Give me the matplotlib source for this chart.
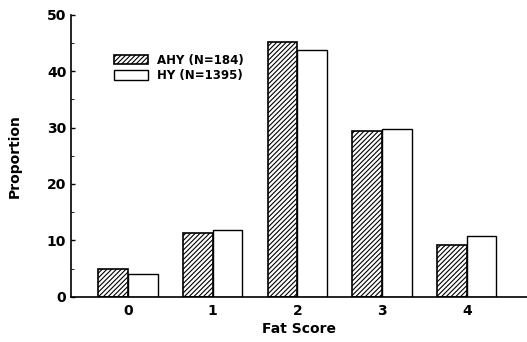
import matplotlib

matplotlib.use("Agg")
import matplotlib.pyplot as plt  # noqa: E402
import numpy as np  # noqa: E402

fat_scores = ["0", "1", "2", "3", "4"]
ahy_vals = [5.0, 11.4, 45.1, 29.4, 9.2]
hy_vals = [4.1, 11.8, 43.7, 29.8, 10.8]
labels = ["AHY (N=184)", "HY (N=1395)"]

plt.rcParams["font.family"] = "DejaVu Sans"
plt.rcParams["hatch.linewidth"] = 0.8

fig = plt.figure(figsize=(5.27, 3.42), dpi=100)
ax = fig.add_axes([0.135, 0.132, 0.865, 0.825])

x = np.arange(len(fat_scores))
w = 0.35
ax.bar(x - w / 2, ahy_vals, w, facecolor="white", edgecolor="black",
       hatch="///////", linewidth=1.2, label=labels[0])
ax.bar(x + w / 2, hy_vals, w, facecolor="white", edgecolor="black",
       linewidth=1.0, label=labels[1])

ax.set_xlim(-0.67, 4.71)
ax.set_ylim(0, 50)
ax.set_xticks(x)
ax.set_xticklabels(fat_scores, fontsize=10, fontweight="bold")
ax.set_yticks(range(0, 51, 10))
ax.set_yticks(range(5, 50, 10), minor=True)
ax.tick_params(axis="y", direction="in", length=3, width=1, labelsize=10)
ax.tick_params(axis="y", which="minor", direction="in", length=2)
ax.tick_params(axis="x", length=0, pad=5)
for t in ax.get_yticklabels():
    t.set_fontweight("bold")
ax.spines["top"].set_visible(False)
ax.spines["right"].set_visible(False)
ax.spines["left"].set_linewidth(1.2)
ax.spines["bottom"].set_linewidth(1.2)

ax.set_xlabel("Fat Score", fontsize=10, fontweight="bold", labelpad=3)
ax.set_ylabel("Proportion", fontsize=10, fontweight="bold", labelpad=18)

ax.legend(loc="upper left", bbox_to_anchor=(0.07, 0.9), frameon=False,
          prop={"weight": "bold", "size": 8.5},
          handlelength=2.9, handleheight=0.9, labelspacing=0.2,
          handletextpad=0.8)

fig.savefig("out.png", dpi=100)
plt.close(fig)
